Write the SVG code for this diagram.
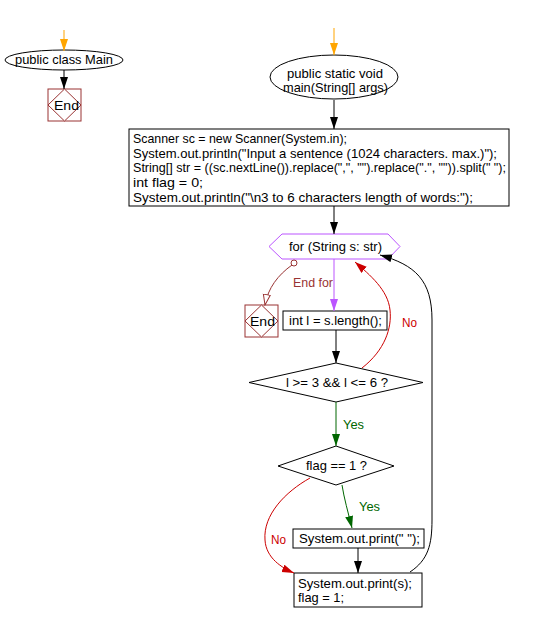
<svg xmlns="http://www.w3.org/2000/svg" width="540" height="622" viewBox="0 0 540 622">
<defs>
<style>
text{font-family:"Liberation Sans",Arial,sans-serif;font-size:13px;fill:#000}
.box{fill:#fff;stroke:#000;stroke-width:1}
.endb{fill:#fff;stroke:#993333;stroke-width:1}
.ln{fill:none;stroke:#000;stroke-width:1}
.red{fill:none;stroke:#cc0000;stroke-width:1}
.grn{fill:none;stroke:#006600;stroke-width:1}
.pur{fill:none;stroke:#bb55ff;stroke-width:1}
.org{fill:none;stroke:#ffa500;stroke-width:1}
.dred{fill:none;stroke:#993333;stroke-width:1}
</style>
<marker id="ab" markerUnits="userSpaceOnUse" markerWidth="14" markerHeight="10" refX="12" refY="4" orient="auto"><path d="M0,0 L12,4 L0,8 z" fill="#000"/></marker>
<marker id="ar" markerUnits="userSpaceOnUse" markerWidth="14" markerHeight="10" refX="12" refY="4" orient="auto"><path d="M0,0 L12,4 L0,8 z" fill="#cc0000"/></marker>
<marker id="ag" markerUnits="userSpaceOnUse" markerWidth="14" markerHeight="10" refX="12" refY="4" orient="auto"><path d="M0,0 L12,4 L0,8 z" fill="#006600"/></marker>
<marker id="ap" markerUnits="userSpaceOnUse" markerWidth="14" markerHeight="10" refX="12" refY="4" orient="auto"><path d="M0,0 L12,4 L0,8 z" fill="#bb55ff"/></marker>
<marker id="ao" markerUnits="userSpaceOnUse" markerWidth="14" markerHeight="10" refX="12" refY="4" orient="auto"><path d="M0,0 L12,4 L0,8 z" fill="#ffa500"/></marker>
<marker id="ah" markerUnits="userSpaceOnUse" markerWidth="14" markerHeight="10" refX="11" refY="4" orient="auto"><path d="M0.5,0.5 L11,4 L0.5,7.5 z" fill="#fff" stroke="#993333"/></marker>
</defs>

<g id="class-main">
<ellipse cx="64" cy="60" rx="59" ry="10" fill="#fff" stroke="#000"/>
<text x="15" y="64" textLength="98" lengthAdjust="spacingAndGlyphs">public class Main</text>
</g>
<g id="end-class">
<rect class="endb" x="48" y="89" width="33" height="32"/>
<polygon class="endb" points="64.5,89 81,105 64.5,121 48,105"/>
<text x="54" y="110" textLength="25" lengthAdjust="spacingAndGlyphs">End</text>
</g>
<g id="main-method">
<ellipse cx="334" cy="77" rx="64" ry="22" fill="#fff" stroke="#000"/>
<text x="287" y="78" textLength="96" lengthAdjust="spacingAndGlyphs">public static void</text>
<text x="283" y="92" textLength="105" lengthAdjust="spacingAndGlyphs">main(String[] args)</text>
</g>
<g id="init-block">
<rect class="box" x="129" y="129" width="380" height="77"/>
<text x="133" y="143" textLength="214" lengthAdjust="spacingAndGlyphs">Scanner sc = new Scanner(System.in);</text>
<text x="133" y="158" textLength="364" lengthAdjust="spacingAndGlyphs">System.out.println("Input a sentence (1024 characters. max.)");</text>
<text x="133" y="172" textLength="373" lengthAdjust="spacingAndGlyphs">String[] str = ((sc.nextLine()).replace(",", "").replace(".", "")).split(" ");</text>
<text x="133" y="187" textLength="70" lengthAdjust="spacingAndGlyphs">int flag = 0;</text>
<text x="133" y="202" textLength="340" lengthAdjust="spacingAndGlyphs">System.out.println("\n3 to 6 characters length of words:");</text>
</g>
<g id="for-loop">
<polygon points="269,246.5 282,234 388,234 400,246.5 388,259 282,259" fill="#fff" stroke="#bb55ff"/>
<text x="289" y="251" textLength="93" lengthAdjust="spacingAndGlyphs">for (String s: str)</text>
</g>
<g id="end-for-label">
<text x="293" y="287" textLength="40" lengthAdjust="spacingAndGlyphs" style="fill:#993333">End for</text>
</g>
<g id="end-loop">
<rect class="endb" x="245" y="305" width="33" height="32"/>
<polygon class="endb" points="261.5,305 278,321 261.5,337 245,321"/>
<text x="250" y="326" textLength="25" lengthAdjust="spacingAndGlyphs">End</text>
</g>
<g id="len">
<rect class="box" x="283" y="311" width="104" height="19"/>
<text x="289" y="325" textLength="93" lengthAdjust="spacingAndGlyphs">int l = s.length();</text>
</g>
<g id="cond1">
<polygon points="249,382.5 336,363 423,382.5 336,402" fill="#fff" stroke="#000"/>
<text x="286" y="387" textLength="102" lengthAdjust="spacingAndGlyphs">l &gt;= 3 &amp;&amp; l &lt;= 6 ?</text>
</g>
<g id="cond2">
<polygon points="278,466 336,446 394,466 336,485" fill="#fff" stroke="#000"/>
<text x="306" y="470" textLength="61" lengthAdjust="spacingAndGlyphs">flag == 1 ?</text>
</g>
<g id="print-space">
<rect class="box" x="293" y="529" width="131" height="19"/>
<text x="299" y="543" textLength="121" lengthAdjust="spacingAndGlyphs">System.out.print(" ");</text>
</g>
<g id="print-s">
<rect class="box" x="294" y="573" width="128" height="34"/>
<text x="298" y="588" textLength="114" lengthAdjust="spacingAndGlyphs">System.out.print(s);</text>
<text x="298" y="602" textLength="46" lengthAdjust="spacingAndGlyphs">flag = 1;</text>
</g>

<g id="connectors">
<line class="org" x1="64" y1="30" x2="64" y2="51" marker-end="url(#ao)"/>
<line class="ln" x1="64" y1="70" x2="64" y2="89" marker-end="url(#ab)"/>
<line class="org" x1="334" y1="28" x2="334" y2="55" marker-end="url(#ao)"/>
<line class="ln" x1="334" y1="100" x2="334" y2="129" marker-end="url(#ab)"/>
<line class="ln" x1="334" y1="206" x2="334" y2="234" marker-end="url(#ab)"/>
<line class="pur" x1="334" y1="259" x2="334" y2="311" marker-end="url(#ap)"/>
<circle cx="294" cy="263" r="3" fill="#fff" stroke="#993333"/>
<path class="dred" d="M292,265 C278,275 268,288 265,305" marker-end="url(#ah)"/>
<line class="ln" x1="336" y1="330" x2="336" y2="363" marker-end="url(#ab)"/>
<line class="grn" x1="336" y1="402" x2="336" y2="446" marker-end="url(#ag)"/>
<path class="red" d="M362,368 C385,350 392,328 390,310 C388,290 370,275 355,262" marker-end="url(#ar)"/>
<path class="grn" d="M342,485 C344,498 348,512 352,528" marker-end="url(#ag)"/>
<line class="ln" x1="358" y1="548" x2="358" y2="573" marker-end="url(#ab)"/>
<path class="red" d="M310,478 C285,492 263,515 265,540 C266,558 282,568 294,573" marker-end="url(#ar)"/>
<path class="ln" d="M410,572 C428,560 432,545 432,520 L432,320 C432,280 415,265 380,255" marker-end="url(#ab)"/>
</g>

<g id="labels">
<text x="402" y="327" textLength="15" lengthAdjust="spacingAndGlyphs" style="fill:#cc0000">No</text>
<text x="343" y="429" textLength="21" lengthAdjust="spacingAndGlyphs" style="fill:#006600">Yes</text>
<text x="359" y="511" textLength="21" lengthAdjust="spacingAndGlyphs" style="fill:#006600">Yes</text>
<text x="271" y="544" textLength="15" lengthAdjust="spacingAndGlyphs" style="fill:#cc0000">No</text>
</g>
</svg>
